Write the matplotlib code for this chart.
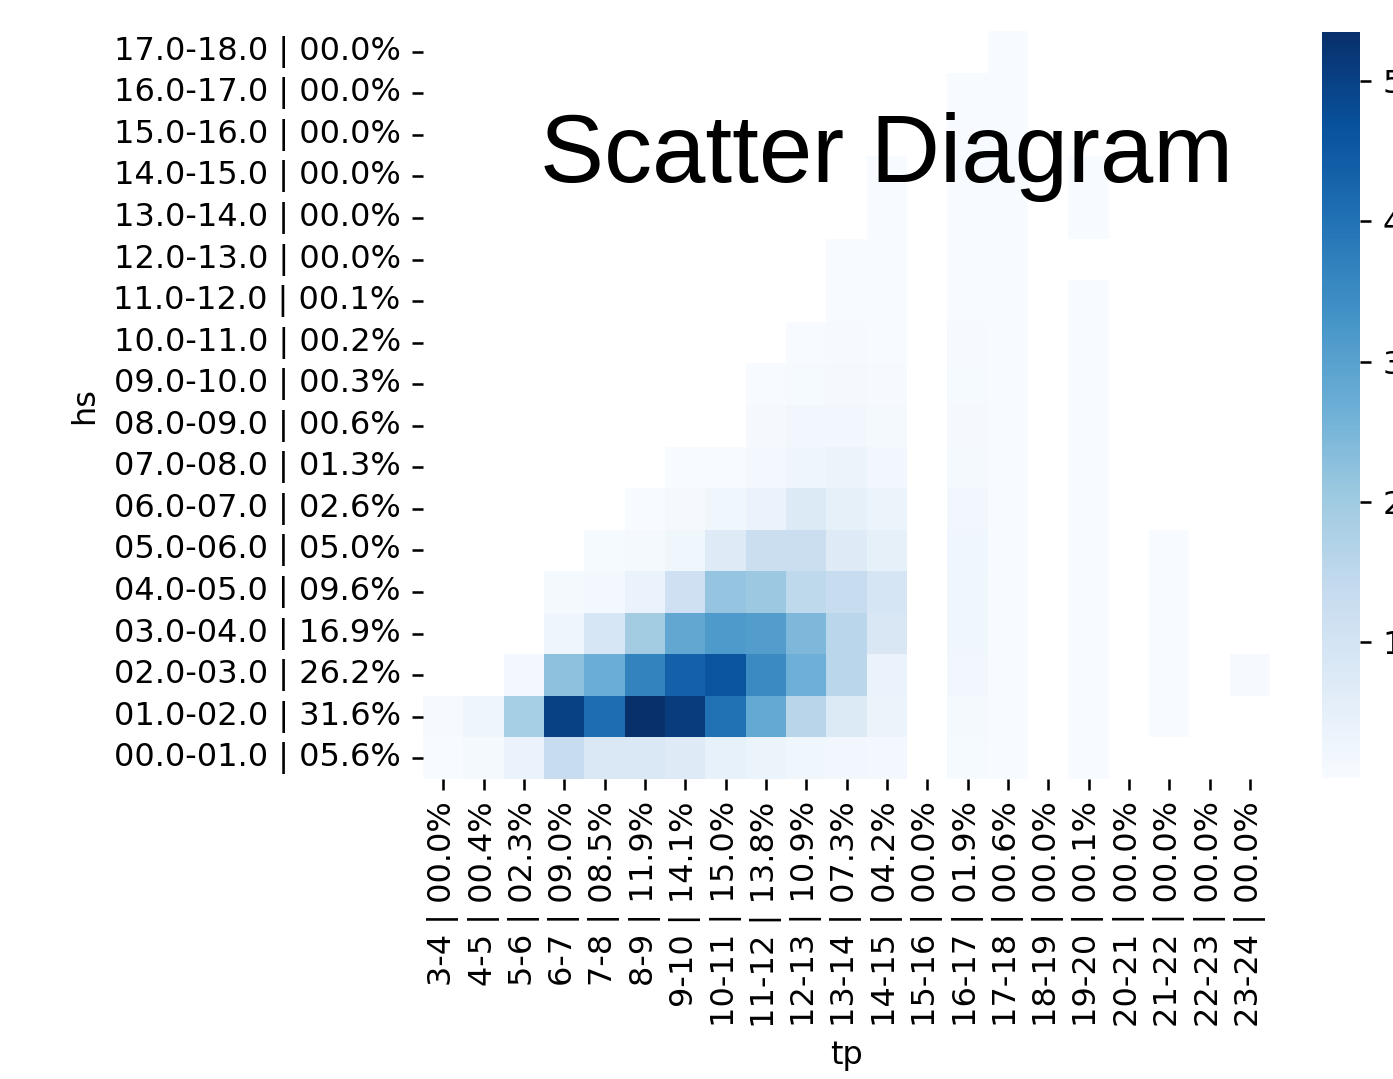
import numpy as np
import pandas as pd
import matplotlib
matplotlib.use("Agg")
import matplotlib.pyplot as plt
import seaborn as sns

N = np.nan

tp_labels = ["3-4 | 00.0%", "4-5 | 00.4%", "5-6 | 02.3%", "6-7 | 09.0%", "7-8 | 08.5%",
             "8-9 | 11.9%", "9-10 | 14.1%", "10-11 | 15.0%", "11-12 | 13.8%", "12-13 | 10.9%",
             "13-14 | 07.3%", "14-15 | 04.2%", "15-16 | 00.0%", "16-17 | 01.9%", "17-18 | 00.6%",
             "18-19 | 00.0%", "19-20 | 00.1%", "20-21 | 00.0%", "21-22 | 00.0%", "22-23 | 00.0%",
             "23-24 | 00.0%"]

hs_labels = ["17.0-18.0 | 00.0%", "16.0-17.0 | 00.0%", "15.0-16.0 | 00.0%", "14.0-15.0 | 00.0%",
             "13.0-14.0 | 00.0%", "12.0-13.0 | 00.0%", "11.0-12.0 | 00.1%", "10.0-11.0 | 00.2%",
             "09.0-10.0 | 00.3%", "08.0-09.0 | 00.6%", "07.0-08.0 | 01.3%", "06.0-07.0 | 02.6%",
             "05.0-06.0 | 05.0%", "04.0-05.0 | 09.6%", "03.0-04.0 | 16.9%", "02.0-03.0 | 26.2%",
             "01.0-02.0 | 31.6%", "00.0-01.0 | 05.6%"]

# occurrence (%) per hs row, columns follow tp_labels
hs_17_18 = [N]*14 + [0.04] + [N]*6
hs_16_17 = [N]*13 + [0.03, 0.04] + [N]*6
hs_15_16 = [N]*13 + [0.03, 0.04] + [N]*6
hs_14_15 = [N]*11 + [0.03, N, 0.03, 0.04, N, 0.03] + [N]*4
hs_13_14 = [N]*11 + [0.03, N, 0.04, 0.04, N, 0.03] + [N]*4
hs_12_13 = [N]*10 + [0.03, 0.03, N, 0.05, 0.04] + [N]*6
hs_11_12 = [N]*10 + [0.04, 0.04, N, 0.05, 0.04, N, 0.03] + [N]*4
hs_10_11 = [N]*9 + [0.05, 0.06, 0.05, N, 0.06, 0.04, N, 0.03] + [N]*4
hs_09_10 = [N]*8 + [0.05, 0.08, 0.10, 0.07, N, 0.08, 0.04, N, 0.03] + [N]*4
hs_08_09 = [N]*8 + [0.10, 0.20, 0.18, 0.12, N, 0.10, 0.04, N, 0.03] + [N]*4
hs_07_08 = [N]*6 + [0.03, 0.04, 0.15, 0.30, 0.35, 0.20, N, 0.12, 0.04, N, 0.03] + [N]*4
hs_06_07 = [N]*5 + [0.05, 0.10, 0.25, 0.40, 0.75, 0.50, 0.35, N, 0.18, 0.04, N, 0.03] + [N]*4
hs_05_06 = [N]*4 + [0.08, 0.12, 0.25, 0.70, 1.25, 1.25, 0.70, 0.50, N, 0.22, 0.05, N, 0.03, N, 0.03, N, N]
hs_04_05 = [N]*3 + [0.12, 0.15, 0.40, 1.15, 2.15, 2.05, 1.50, 1.30, 0.95, N, 0.25, 0.05, N, 0.03, N, 0.03, N, N]
hs_03_04 = [N]*3 + [0.30, 0.90, 1.95, 2.85, 3.15, 3.10, 2.45, 1.55, 0.85, N, 0.25, 0.05, N, 0.03, N, 0.03, N, N]
hs_02_03 = [N, N, 0.15, 2.25, 2.70, 3.65, 4.35, 4.60, 3.50, 2.65, 1.55, 0.40, N, 0.20, 0.05, N, 0.03, N, 0.03, N, 0.06]
hs_01_02 = [0.06, 0.30, 1.90, 5.00, 4.10, 5.35, 5.10, 4.00, 2.80, 1.60, 0.75, 0.35, N, 0.12, 0.04, N, 0.03, N, 0.03, N, N]
hs_00_01 = [0.04, 0.12, 0.40, 1.30, 0.80, 0.80, 0.70, 0.45, 0.35, 0.25, 0.20, 0.15, N, 0.08, 0.04, N, 0.03, N, N, N, N]

rows = [hs_17_18, hs_16_17, hs_15_16, hs_14_15, hs_13_14, hs_12_13, hs_11_12, hs_10_11,
        hs_09_10, hs_08_09, hs_07_08, hs_06_07, hs_05_06, hs_04_05, hs_03_04, hs_02_03,
        hs_01_02, hs_00_01]

df = pd.DataFrame(rows, index=hs_labels, columns=tp_labels)

DPI = 230
fig = plt.figure(figsize=(1393 / DPI, 1079 / DPI), dpi=DPI)
W, H = 1393, 1079
ax = fig.add_axes([423 / W, 1 - 779 / H, (1270 - 423) / W, (779 - 31) / H])
cax = fig.add_axes([1322 / W, 1 - 778 / H, (1360 - 1322) / W, (778 - 32) / H])

sns.heatmap(df, cmap="Blues", ax=ax, cbar_ax=cax)
ax.set_xlabel("tp")
ax.set_ylabel("hs")
ax.set_xticklabels(tp_labels, rotation=90)
ax.set_yticklabels(hs_labels, rotation=0)

fig.text(540 / W, 1 - 182 / H, "Scatter Diagram", fontsize=30,
         family="Liberation Sans", ha="left", va="baseline")

fig.savefig("out.png", dpi=DPI)
